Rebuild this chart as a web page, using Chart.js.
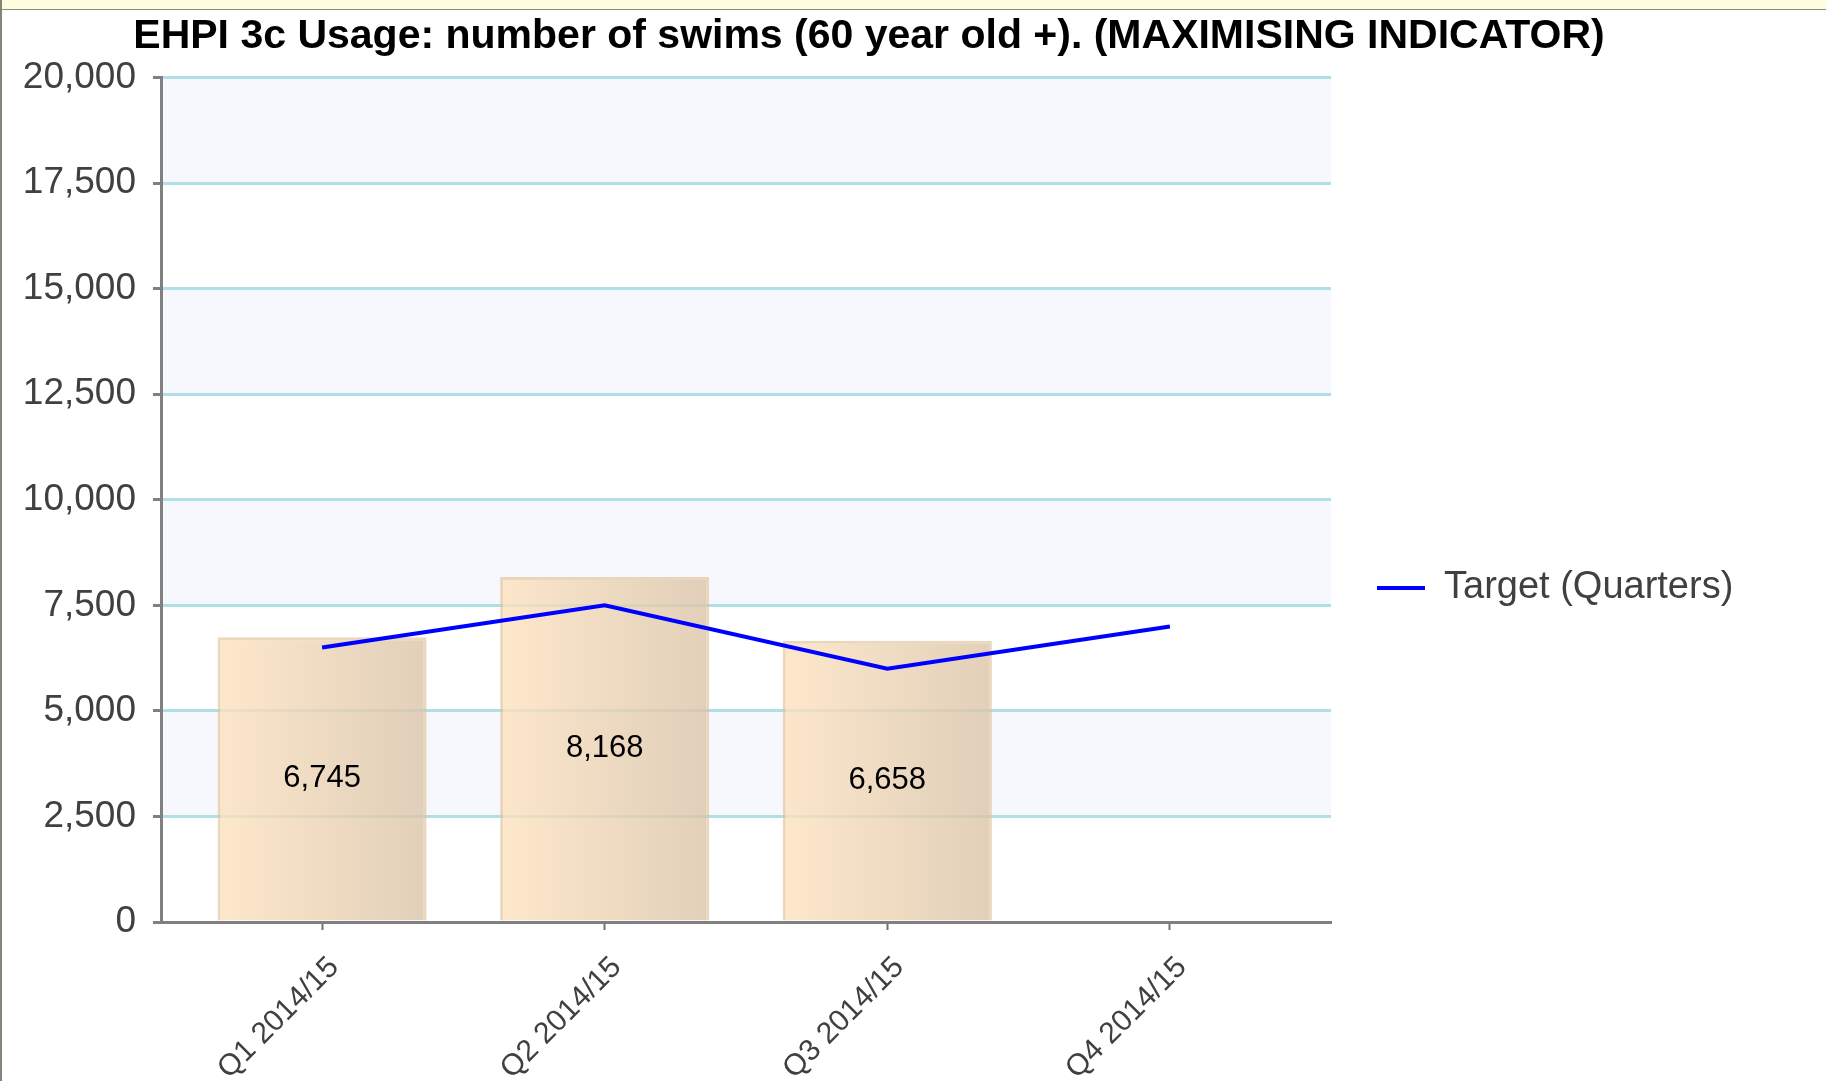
<!DOCTYPE html>
<html lang="en">
<head>
    <meta charset="UTF-8">
    <title>EHPI 3c Usage</title>
    <script src="https://cdn.jsdelivr.net/npm/chart.js"></script>
    <style>
        html, body { margin: 0; padding: 0; background: #fff; }
        .frame { position: relative; width: 1826px; height: 1081px; overflow: hidden; }
        .topbar { position: absolute; left: 0; top: 0; width: 1826px; height: 9px; background: #fffde0; border-bottom: 1px solid #8a8a80; z-index: 2; }
        .leftline { position: absolute; left: 0; top: 0; width: 2px; height: 1081px; background: #84847a; z-index: 2; }
        canvas { position: absolute; left: 0; top: 0; }
    </style>
</head>
<body>
    <div class="frame">
        <div class="topbar"></div>
        <div class="leftline"></div>
        <canvas id="grafico" width="1826" height="1081"></canvas>
    </div>

    <script>
        // dados
        const quarters = ['Q1 2014/15', 'Q2 2014/15', 'Q3 2014/15', 'Q4 2014/15'];
        const actual = [6745, 8168, 6658];
        const target = [6500, 7500, 6000, 7000];
        const yTicks = { min: 0, max: 20000, step: 2500 };

        const barPct = 0.74;
        const fmt = new Intl.NumberFormat('en-US');

        Chart.defaults.font.family = '"Liberation Sans", Arial, sans-serif';

        // faixas alternadas no fundo
        const bands = {
            id: 'bands',
            beforeDraw(chart) {
                const { ctx, chartArea, scales: { y } } = chart;
                ctx.save();
                ctx.fillStyle = '#f7f8fd';
                const ticks = y.ticks;
                for (let i = 0; i < ticks.length - 1; i++) {
                    if (i % 2 === 0) continue;
                    const top = y.getPixelForValue(ticks[i + 1].value);
                    const bot = y.getPixelForValue(ticks[i].value);
                    ctx.fillRect(chartArea.left, top, chartArea.right - chartArea.left, bot - top);
                }
                ctx.restore();
            }
        };

        // rótulos de valor no meio das barras
        const barLabels = {
            id: 'barLabels',
            afterDatasetsDraw(chart) {
                const meta = chart.getDatasetMeta(1);
                const ctx = chart.ctx;
                ctx.save();
                ctx.font = '31px "Liberation Sans", Arial, sans-serif';
                ctx.fillStyle = '#000';
                ctx.textAlign = 'center';
                ctx.textBaseline = 'middle';
                meta.data.forEach((bar, i) => {
                    const p = bar.getCenterPoint();
                    ctx.fillText(fmt.format(actual[i]), p.x, p.y);
                });
                ctx.restore();
            }
        };

        // legenda um pouco mais abaixo, como no original
        const legendDown = {
            id: 'legendDown',
            afterLayout(chart) {
                const lg = chart.legend;
                const shift = 588 - (lg.top + lg.bottom) / 2;
                lg.top += shift;
                lg.bottom += shift;
            }
        };

        function barGradient(c) {
            const fallback = 'rgba(240,212,178,0.8)';
            const xs = c.chart.scales.x;
            if (!xs || c.type !== 'data') return fallback;
            const cx = xs.getPixelForValue(c.dataIndex);
            const hw = (xs.getPixelForValue(1) - xs.getPixelForValue(0)) * barPct / 2;
            if (!isFinite(cx) || !isFinite(hw) || hw <= 0) return fallback;
            const g = c.chart.ctx.createLinearGradient(cx - hw, 0, cx + hw, 0);
            g.addColorStop(0, 'rgba(253,226,190,0.8)');
            g.addColorStop(1, 'rgba(218,196,168,0.8)');
            return g;
        }

        new Chart(document.getElementById('grafico'), {
            data: {
                datasets: [{
                    type: 'line',
                    label: 'Target (Quarters)',
                    data: target.map((v, i) => ({ x: i, y: v })),
                    borderColor: '#0000ff',
                    backgroundColor: '#0000ff',
                    borderWidth: 4,
                    pointRadius: 0,
                    tension: 0,
                    order: 0
                }, {
                    type: 'bar',
                    label: 'Actual',
                    data: actual.map((v, i) => ({ x: i, y: v })),
                    backgroundColor: barGradient,
                    borderColor: 'rgba(224,194,150,0.65)',
                    borderWidth: 3,
                    barPercentage: barPct,
                    categoryPercentage: 1,
                    order: 1
                }]
            },
            options: {
                responsive: false,
                animation: false,
                layout: { padding: { left: 0, right: 88, top: 10, bottom: 0 } },
                plugins: {
                    tooltip: { enabled: false },
                    title: {
                        display: true,
                        text: 'EHPI 3c Usage: number of swims (60 year old +). (MAXIMISING INDICATOR)',
                        color: '#000',
                        font: { size: 41, weight: 'bold' },
                        padding: { top: 2, bottom: 16.3 }
                    },
                    legend: {
                        position: 'right',
                        maxWidth: 407,
                        labels: {
                            filter: item => item.datasetIndex === 0,
                            usePointStyle: true,
                            pointStyle: 'line',
                            pointStyleWidth: 48,
                            padding: 46,
                            color: '#404040',
                            font: { size: 38 }
                        }
                    }
                },
                scales: {
                    x: {
                        type: 'linear',
                        offset: false,
                        min: -0.57,
                        max: 3.57,
                        afterFit(axis) { axis.height = 159; },
                        border: { color: '#808080', width: 3 },
                        grid: { offset: false, drawOnChartArea: false, tickLength: 8, tickColor: '#707070', tickWidth: 2 },
                        ticks: {
                            stepSize: 1,
                            includeBounds: false,
                            autoSkip: false,
                            minRotation: 45,
                            maxRotation: 45,
                            labelOffset: 12,
                            padding: 20,
                            color: '#404040',
                            font: { size: 30 },
                            callback: v => quarters[v] ?? ''
                        }
                    },
                    y: {
                        min: yTicks.min,
                        max: yTicks.max,
                        afterFit(axis) { axis.width = 161; },
                        border: { color: '#808080', width: 3 },
                        grid: { color: '#b0e0e6', lineWidth: 3, tickLength: 8, tickColor: '#808080', tickWidth: 3 },
                        ticks: {
                            stepSize: yTicks.step,
                            padding: 17,
                            color: '#404040',
                            font: { size: 37 },
                            callback: v => fmt.format(v)
                        }
                    }
                }
            },
            plugins: [bands, barLabels, legendDown]
        });
    </script>
</body>
</html>
